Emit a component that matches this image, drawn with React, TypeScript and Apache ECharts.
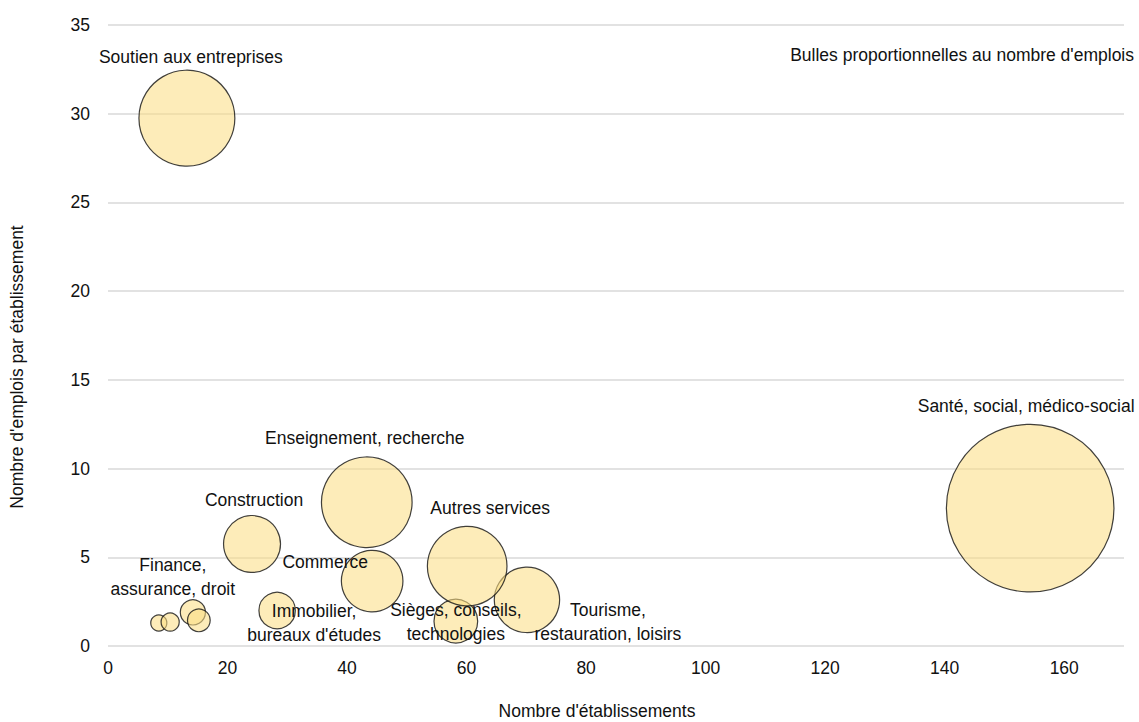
import React, { useEffect, useRef } from "react";
import * as echarts from "echarts";

const sectors = [
  "Finance a",
  "Finance b",
  "Finance, assurance, droit",
  "Finance d",
  "Immobilier, bureaux d'études",
  "Sièges, conseils, technologies",
  "Construction",
  "Commerce",
  "Tourisme, restauration, loisirs",
  "Autres services",
  "Enseignement, recherche",
  "Soutien aux entreprises",
  "Santé, social, médico-social",
];
const etablissements = [8.5, 10.4, 14.2, 15.2, 28.3, 58.2, 24.1, 44.2, 70.1, 60.1, 43.3, 13.2, 154.3];
const emploisParEtab = [1.3, 1.35, 1.9, 1.45, 2.0, 1.4, 5.75, 3.66, 2.6, 4.5, 8.1, 29.75, 7.77];
const labelTexts = [
  "",
  "",
  "Finance,\nassurance, droit",
  "",
  "Immobilier,\nbureaux d'études",
  "Sièges, conseils,\ntechnologies",
  "Construction",
  "Commerce",
  "Tourisme,\nrestauration, loisirs",
  "Autres services",
  "Enseignement, recherche",
  "Soutien aux entreprises",
  "Santé, social, médico-social",
];
const labelOffsets = [
  [0, 0], [0, 0], [-20, -35], [0, 0], [37, 12], [0, 1], [2, -44],
  [-47, -19], [81, 22], [23, -58], [-2, -64], [4, -61], [-4, -102],
];
const xTicks = [0, 20, 40, 60, 80, 100, 120, 140, 160];
const yTicks = [0, 5, 10, 15, 20, 25, 30, 35];

const FONT = "'Liberation Sans', Arial, sans-serif";
const TEXT = "#111111";
const FS = 17.5;

export default function App() {
  const ref = useRef<HTMLDivElement>(null);
  useEffect(() => {
    if (!ref.current) return;
    const chart = echarts.init(ref.current, null, { renderer: "svg" });
    const data = sectors.map((name, i) => ({
      name,
      value: [etablissements[i], emploisParEtab[i]],
      label: {
        show: labelTexts[i] !== "",
        formatter: labelTexts[i],
        position: "inside",
        offset: labelOffsets[i],
      },
    }));
    chart.setOption({
      animation: false,
      grid: { left: 108, right: 15, top: 25, bottom: 76 },
      xAxis: {
        type: "value",
        min: 0,
        max: 170,
        interval: 20,
        axisLine: { show: false },
        axisTick: { show: false },
        splitLine: { show: false },
        axisLabel: {
          showMaxLabel: false,
          margin: 13,
          color: TEXT,
          fontSize: FS,
          fontFamily: FONT,
          formatter: (v: number) => (xTicks.includes(v) ? String(v) : ""),
        },
      },
      yAxis: {
        type: "value",
        min: 0,
        max: 35,
        interval: 5,
        axisLine: { show: false },
        axisTick: { show: false },
        splitLine: { show: true, lineStyle: { color: "#d9d9d9", width: 1.5 } },
        axisLabel: {
          margin: 18,
          color: TEXT,
          fontSize: FS,
          fontFamily: FONT,
          formatter: (v: number) => (yTicks.includes(v) ? String(v) : ""),
        },
      },
      graphic: [
        {
          type: "text",
          right: 5,
          top: 46,
          style: {
            text: "Bulles proportionnelles au nombre d'emplois",
            fontSize: FS,
            fontFamily: FONT,
            fill: TEXT,
          },
        },
        {
          type: "text",
          x: 597,
          y: 711,
          style: {
            text: "Nombre d'établissements",
            fontSize: FS,
            fontFamily: FONT,
            fill: TEXT,
            align: "center",
            verticalAlign: "middle",
          },
        },
        {
          type: "text",
          x: 17,
          y: 367,
          rotation: Math.PI / 2,
          style: {
            text: "Nombre d'emplois par établissement",
            fontSize: FS,
            fontFamily: FONT,
            fill: TEXT,
            align: "center",
            verticalAlign: "middle",
          },
        },
      ],
      series: [
        {
          type: "scatter",
          data,
          symbolSize: (val: number[]) => 4.84 * Math.sqrt(val[0] * val[1]),
          itemStyle: {
            color: "rgba(252, 222, 130, 0.7)",
            borderColor: "#111111",
            borderWidth: 1.2,
          },
          label: {
            color: TEXT,
            opacity: 1,
            textBorderWidth: 0,
            fontSize: FS,
            fontFamily: FONT,
            lineHeight: 24,
            align: "center",
          },
          emphasis: { disabled: true },
        },
      ],
    });
    return () => chart.dispose();
  }, []);
  return <div ref={ref} style={{ width: 1139, height: 722, position: "absolute", left: 0, top: 0 }} />;
}
